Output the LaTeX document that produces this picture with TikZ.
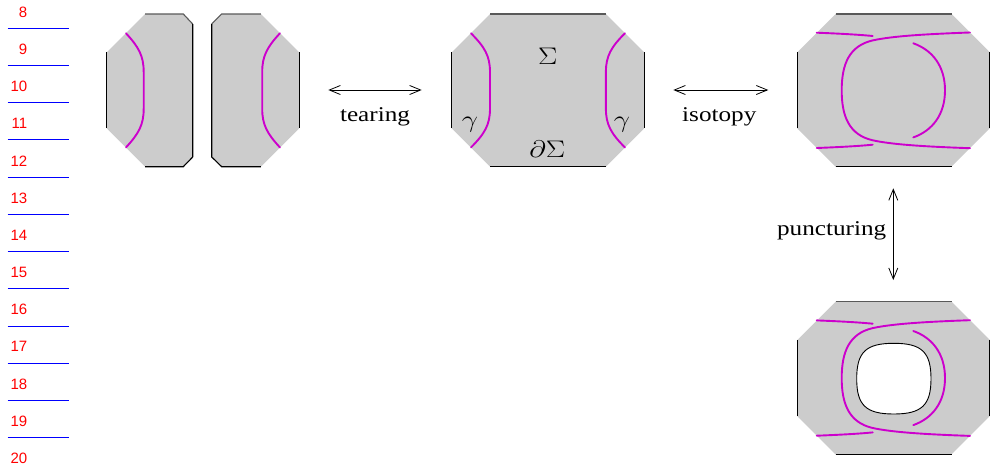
\RequirePackage{fix-cm}
\documentclass[tikz,border=0pt]{standalone}
\usepackage{fontspec}
\setmainfont{Liberation Serif}
\newfontfamily\numfont{Liberation Sans}
\usepackage{graphicx}
\usetikzlibrary{arrows.meta}
\definecolor{panelgray}{RGB}{204,204,204}
\definecolor{curvemag}{RGB}{204,0,204}
\definecolor{numred}{RGB}{255,0,0}
\definecolor{lineblue}{RGB}{0,0,255}
\newcommand\hstretch[1]{\scalebox{1.2}[1]{#1}}
\newcommand\drawoctpanel{%
  \fill[panelgray] (38.3,0) -- (154.2,0) -- (192.5,38.3) -- (192.5,114.4) -- (154.2,152.7) -- (38.3,152.7) -- (0,114.4) -- (0,38.3) -- cycle;
  \draw[edgeline, topedge] (38.3,0) -- (154.2,0);
  \draw[edgeline] (38.3,152.7) -- (154.2,152.7);
  \draw[edgeline] (0,38.3) -- (0,114.4);
  \draw[edgeline] (192.5,38.3) -- (192.5,114.4);
}
\newcommand\drawknotstrands{%
  \draw[strand] (19.4,18.7) .. controls (40,19.5) and (60,20.5) .. (75.4,22);
  \draw[strand] (19.4,134) .. controls (40,133.2) and (60,132.2) .. (75.4,130.7);
  \draw[strand] (172.7,18.5) .. controls (130,20) and (95,22) .. (75,26.5)
     .. controls (52,32) and (44.4,50) .. (44.4,76.35)
     .. controls (44.4,102.7) and (52,120.7) .. (75,126.2)
     .. controls (95,130.7) and (130,132.7) .. (172.7,134.2);
  \draw[strand] (116,29.3) .. controls (135,36) and (147.7,52) .. (147.7,76.35)
     .. controls (147.7,100.7) and (135,116.7) .. (116,123.4);
}
\tikzset{
  edgeline/.style={line width=1.1pt, black},
  topedge/.style={draw=black!65},
  strand/.style={line width=1.9pt, curvemag, line cap=round},
  relarrow/.style={line width=0.8pt, {Straight Barb[length=11pt,width=9pt]}-{Straight Barb[length=11pt,width=9pt]}},
  lbl/.style={inner sep=0pt, font=\fontsize{21}{25}\selectfont, anchor=base},
  sym/.style={inner sep=0pt, font=\fontsize{24}{28}\selectfont},
  num/.style={inner sep=0pt, font=\numfont\fontsize{15}{18}\selectfont, text=numred, anchor=base east},
  numrule/.style={line width=1pt, draw=lineblue},
}
\begin{document}
\begin{tikzpicture}[x=1pt,y=-1pt]
\useasboundingbox (0,0) rectangle (997,466);
% line numbers
\foreach \i in {0,...,12}{
  \pgfmathtruncatemacro\lab{\i+8}
  \node[num] (n\i) at (27.5,{17.3+37.18*\i}) {\lab};
}
\foreach \yy in {28.5,65.5,102.5,139.5,177.5,214.5,251.5,288.5,326.5,363.5,400.5,437.5}{
  \draw[numrule] (7.7,\yy) -- (69,\yy);
}
% torn panel
\begin{scope}[shift={(106.7,14)}]
  \fill[panelgray] (38.3,0) -- (76.6,0) -- (86,10) -- (86,143) -- (76.6,152.7) -- (38.3,152.7) -- (0,114.4) -- (0,38.3) -- cycle;
  \draw[edgeline, topedge] (38.3,0) -- (76.6,0) -- (86,10);
  \draw[edgeline] (86,10) -- (86,143) -- (76.6,152.7) -- (38.3,152.7);
  \draw[edgeline] (0,38.3) -- (0,114.4);
  \fill[panelgray] (115,0) -- (154.2,0) -- (192.5,38.3) -- (192.5,114.4) -- (154.2,152.7) -- (115,152.7) -- (105,143) -- (105,10) -- cycle;
  \draw[edgeline, topedge] (154.2,0) -- (115,0) -- (105,10);
  \draw[edgeline] (105,10) -- (105,143) -- (115,152.7) -- (154.2,152.7);
  \draw[edgeline] (192.5,38.3) -- (192.5,114.4);
  \draw[strand] (19.3,19.3) .. controls (32,33) and (37,42) .. (37,58) -- (37,94.7) .. controls (37,110.7) and (32,119.7) .. (19.3,133.4);
  \draw[strand] (173.2,19.3) .. controls (160.5,33) and (155.5,42) .. (155.5,58) -- (155.5,94.7) .. controls (155.5,110.7) and (160.5,119.7) .. (173.2,133.4);
\end{scope}
% middle panel
\begin{scope}[shift={(451.7,14)}]
  \drawoctpanel
  \draw[strand] (19.3,19.3) .. controls (33,33) and (38.3,42) .. (38.3,58) -- (38.3,94.7) .. controls (38.3,110.7) and (33,119.7) .. (19.3,133.4);
  \draw[strand] (173.2,19.3) .. controls (159.5,33) and (154.2,42) .. (154.2,58) -- (154.2,94.7) .. controls (154.2,110.7) and (159.5,119.7) .. (173.2,133.4);
\end{scope}
\node[sym] (sig) at (547.7,56) {\hstretch{$\Sigma$}};
\node[sym, anchor=base] (bdsig) at (547.3,157.5) {\hstretch{$\partial\Sigma$}};
\node[sym] (gamL) at (470,125) {\hstretch{$\gamma$}};
\node[sym] (gamR) at (622,125) {\hstretch{$\gamma$}};
% top right panel
\begin{scope}[shift={(797.3,14)}]
  \drawoctpanel
  \drawknotstrands
\end{scope}
% bottom right panel
\begin{scope}[shift={(797.3,301.7)}]
  \drawoctpanel
  \drawknotstrands
  \filldraw[fill=white, draw=black, line width=0.9pt] (96.5,41.6) .. controls (124.4,41.6) and (133.7,50.5) .. (133.7,77) .. controls (133.7,103.5) and (124.4,112.3) .. (96.5,112.3) .. controls (68.6,112.3) and (59.4,103.5) .. (59.4,77) .. controls (59.4,50.5) and (68.6,41.6) .. cycle;
\end{scope}
% arrows and labels
\coordinate (tearA) at (328.3,90);
\coordinate (tearB) at (421.7,90);
\coordinate (isoA) at (673.3,90);
\coordinate (isoB) at (768.3,90);
\coordinate (puncA) at (893.3,188.3);
\coordinate (puncB) at (893.3,280);
\draw[relarrow] (tearA) -- (tearB);
\draw[relarrow] (isoA) -- (isoB);
\draw[relarrow] (puncA) -- (puncB);
\node[lbl] (tearlbl) at (375,121) {\hstretch{tearing}};
\node[lbl] (isolbl) at (719.3,121) {\hstretch{isotopy}};
\node[lbl] (punclbl) at (831.7,235) {\hstretch{puncturing}};
\end{tikzpicture}
\end{document}
